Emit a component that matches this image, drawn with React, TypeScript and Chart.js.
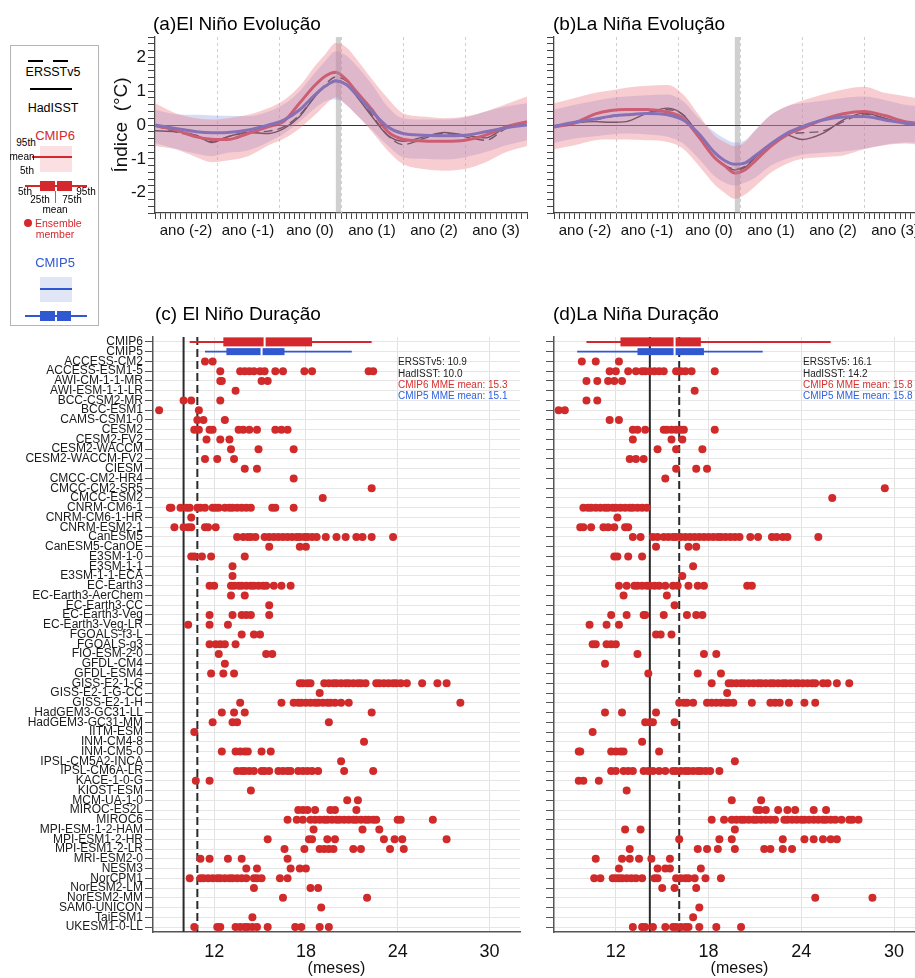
import React, { useEffect, useRef } from "react";
import { Chart, registerables } from "chart.js";
Chart.register(...registerables);

const FONT = '"Liberation Sans", Arial, Helvetica, sans-serif';
const RED = "#d4282d";
const BLUE = "#3058d0";
const PINK_BAND = "rgba(235,130,140,0.40)";
const BLUE_BAND = "rgba(120,140,220,0.30)";

// ---------- Evolution panels (months since Jan of year -2) ----------
const months = [0, 4, 8, 11, 14, 18, 22, 25, 28, 31, 33, 35, 37, 39, 42, 45, 48, 52, 56, 60, 64, 68, 72];
const yearLabels = ["ano (-2)", "ano (-1)", "ano (0)", "ano (1)", "ano (2)", "ano (3)"];

// (a) El Niño
const ninoCmip6 = [-0.02, -0.15, -0.35, -0.42, -0.43, -0.25, -0.05, 0.12, 0.65, 1.18, 1.45, 1.56, 1.34, 0.98, 0.45, -0.19, -0.42, -0.47, -0.48, -0.45, -0.3, -0.05, 0.1];
const ninoCmip5 = [0.0, -0.1, -0.2, -0.23, -0.22, -0.15, 0.0, 0.15, 0.45, 0.9, 1.15, 1.3, 1.2, 0.9, 0.4, -0.05, -0.25, -0.3, -0.32, -0.3, -0.2, -0.08, 0.0];
const ninoHad = [-0.17, -0.2, -0.3, -0.52, -0.35, -0.22, -0.25, -0.1, 0.25, 0.85, 1.15, 1.32, 1.2, 0.85, 0.25, -0.3, -0.48, -0.35, -0.22, -0.3, -0.38, -0.05, 0.1];
const ninoErs = [-0.02, -0.2, -0.35, -0.48, -0.35, -0.22, -0.18, -0.05, 0.3, 0.85, 1.2, 1.42, 1.3, 0.95, 0.3, -0.3, -0.58, -0.4, -0.25, -0.35, -0.45, -0.1, 0.05];
const ninoC6Hi = [0.64, 0.35, 0.2, 0.16, 0.2, 0.3, 0.5, 0.74, 1.15, 1.75, 2.1, 2.42, 2.3, 1.95, 1.35, 0.8, 0.35, 0.25, 0.2, 0.25, 0.4, 0.62, 0.84];
const ninoC6Lo = [-0.62, -0.72, -0.95, -1.1, -1.05, -0.92, -0.6, -0.4, -0.1, 0.3, 0.6, 0.82, 0.6, 0.3, -0.2, -0.75, -1.15, -1.3, -1.35, -1.3, -1.1, -0.8, -0.62];
const ninoC5Hi = [0.45, 0.32, 0.3, 0.28, 0.27, 0.26, 0.4, 0.62, 1.0, 1.55, 1.9, 2.18, 2.05, 1.75, 1.2, 0.55, 0.2, 0.16, 0.16, 0.22, 0.4, 0.55, 0.64];
const ninoC5Lo = [-0.53, -0.7, -0.85, -0.92, -0.82, -0.75, -0.5, -0.25, 0.1, 0.5, 0.7, 0.75, 0.6, 0.3, -0.15, -0.6, -0.95, -1.0, -1.02, -0.95, -0.8, -0.6, -0.45];

// (b) La Niña
const ninaCmip6 = [-0.06, 0.06, 0.33, 0.43, 0.46, 0.46, 0.38, 0.2, -0.35, -0.95, -1.2, -1.42, -1.32, -1.05, -0.62, -0.3, -0.1, 0.15, 0.33, 0.4, 0.28, 0.1, 0.04];
const ninaCmip5 = [-0.04, 0.08, 0.18, 0.26, 0.3, 0.34, 0.3, 0.15, -0.25, -0.8, -1.05, -1.16, -1.12, -0.9, -0.55, -0.25, -0.05, 0.15, 0.24, 0.25, 0.15, 0.05, 0.0];
const ninaHad = [-0.06, 0.06, 0.1, 0.08, 0.1, 0.35, 0.5, 0.3, -0.3, -0.95, -1.2, -1.33, -1.25, -0.95, -0.6, -0.3, -0.43, -0.25, 0.15, 0.35, 0.2, 0.04, -0.02];
const ninaErs = [-0.02, 0.06, 0.15, 0.25, 0.3, 0.35, 0.45, 0.3, -0.3, -0.95, -1.18, -1.3, -1.22, -0.95, -0.6, -0.3, -0.23, -0.18, 0.1, 0.32, 0.2, 0.04, 0.0];
const ninaC6Hi = [0.64, 0.8, 0.95, 1.02, 1.1, 1.16, 1.18, 0.9, 0.3, -0.3, -0.5, -0.62, -0.5, -0.15, 0.3, 0.55, 0.72, 0.9, 1.05, 1.13, 0.95, 0.85, 0.75];
const ninaC6Lo = [-0.72, -0.6, -0.45, -0.43, -0.43, -0.45, -0.5, -0.7, -1.2, -1.75, -2.0, -2.18, -2.05, -1.8, -1.4, -1.15, -1.0, -0.95, -0.9, -0.72, -0.6, -0.55, -0.62];
const ninaC5Hi = [0.45, 0.6, 0.72, 0.8, 0.84, 0.88, 0.9, 0.7, 0.2, -0.2, -0.4, -0.52, -0.45, -0.15, 0.3, 0.55, 0.64, 0.72, 0.8, 0.84, 0.74, 0.6, 0.55];
const ninaC5Lo = [-0.53, -0.4, -0.33, -0.28, -0.25, -0.28, -0.35, -0.55, -1.0, -1.5, -1.7, -1.79, -1.7, -1.55, -1.2, -1.0, -0.88, -0.82, -0.78, -0.7, -0.58, -0.52, -0.52];

// ---------- Duration panels ----------
const models = ["ACCESS-CM2", "ACCESS-ESM1-5", "AWI-CM-1-1-MR", "AWI-ESM-1-1-LR", "BCC-CSM2-MR", "BCC-ESM1", "CAMS-CSM1-0", "CESM2", "CESM2-FV2", "CESM2-WACCM", "CESM2-WACCM-FV2", "CIESM", "CMCC-CM2-HR4", "CMCC-CM2-SR5", "CMCC-ESM2", "CNRM-CM6-1", "CNRM-CM6-1-HR", "CNRM-ESM2-1", "CanESM5", "CanESM5-CanOE", "E3SM-1-0", "E3SM-1-1", "E3SM-1-1-ECA", "EC-Earth3", "EC-Earth3-AerChem", "EC-Earth3-CC", "EC-Earth3-Veg", "EC-Earth3-Veg-LR", "FGOALS-f3-L", "FGOALS-g3", "FIO-ESM-2-0", "GFDL-CM4", "GFDL-ESM4", "GISS-E2-1-G", "GISS-E2-1-G-CC", "GISS-E2-1-H", "HadGEM3-GC31-LL", "HadGEM3-GC31-MM", "IITM-ESM", "INM-CM4-8", "INM-CM5-0", "IPSL-CM5A2-INCA", "IPSL-CM6A-LR", "KACE-1-0-G", "KIOST-ESM", "MCM-UA-1-0", "MIROC-ES2L", "MIROC6", "MPI-ESM-1-2-HAM", "MPI-ESM1-2-HR", "MPI-ESM1-2-LR", "MRI-ESM2-0", "NESM3", "NorCPM1", "NorESM2-LM", "NorESM2-MM", "SAM0-UNICON", "TaiESM1", "UKESM1-0-LL"];
const rowLabels = ["CMIP6", "CMIP5", ...models];
const durTicks = [12, 18, 24, 30];

const ninoDur: number[][] = [
  [11.4, 11.9],
  [12.4, 13.7, 14.0, 14.3, 14.6, 15.0, 15.3, 16.0, 16.5, 17.9, 18.4, 22.1, 22.4],
  [12.4, 12.5, 15.1, 15.5],
  [13.4],
  [10.0, 10.5, 12.4],
  [8.4, 11.0],
  [10.9, 11.3, 12.7],
  [10.7, 11.0, 11.7, 11.9, 13.6, 13.9, 14.3, 14.8, 16.0, 16.4, 16.8],
  [11.5, 12.4, 13.0],
  [13.1, 14.9, 17.2],
  [11.4, 12.2, 13.3],
  [14.0, 14.8],
  [17.2],
  [22.3],
  [19.1],
  [9.1, 9.2, 9.8, 10.2, 10.4, 10.9, 11.1, 11.4, 11.9, 12.1, 12.3, 12.7, 13.0, 13.2, 13.5, 13.8, 14.1, 14.4, 15.8, 16.0, 17.2],
  [10.5],
  [9.4, 10.0, 10.3, 10.5, 11.4, 11.6, 12.1],
  [13.5, 13.9, 14.2, 14.4, 14.7, 15.3, 15.6, 15.9, 16.2, 16.5, 16.8, 17.1, 17.4, 17.6, 17.9, 18.1, 18.4, 18.7, 19.3, 20.0, 20.6, 21.3, 21.7, 22.3, 23.7],
  [15.6, 17.6, 18.0],
  [10.5, 10.7, 11.2, 11.8, 14.0],
  [13.2],
  [13.2],
  [11.7, 12.0, 13.1, 13.3, 13.6, 13.8, 14.1, 14.4, 14.6, 14.9, 15.2, 15.4, 15.9, 16.4, 17.0],
  [13.1, 14.0],
  [15.6],
  [11.7, 13.2, 13.8, 14.1, 14.4, 15.6],
  [10.3, 11.7, 12.9],
  [13.8, 14.6, 15.0],
  [11.7, 12.1, 12.4, 12.7, 13.4],
  [12.3, 15.4, 15.8],
  [12.7],
  [11.8, 12.6, 13.3],
  [17.6, 17.8, 18.1, 18.3, 19.2, 19.5, 19.8, 20.0, 20.3, 20.6, 20.8, 21.1, 21.4, 21.6, 21.9, 22.6, 22.8, 23.1, 23.4, 23.7, 23.9, 24.2, 24.6, 25.6, 26.6, 27.2],
  [18.9],
  [13.7, 16.4, 17.2, 17.5, 17.7, 18.0, 18.3, 18.6, 18.8, 19.1, 19.4, 19.6, 19.9, 20.3, 20.8, 28.1],
  [12.5, 13.3, 14.0, 22.3],
  [11.9, 13.2, 13.5, 19.5],
  [10.7],
  [21.8],
  [12.5, 13.4, 13.7, 14.0, 14.2, 15.1, 15.7],
  [20.3],
  [13.5, 13.8, 14.0, 14.3, 14.6, 15.1, 15.3, 15.6, 16.2, 16.5, 16.8, 17.0, 17.5, 17.8, 18.1, 18.4, 18.8, 20.5, 22.4],
  [10.8, 11.7],
  [14.4],
  [20.7, 21.4],
  [17.5, 17.8, 18.1, 18.6, 19.6, 19.9, 21.3],
  [16.8, 17.4, 17.8, 18.3, 18.6, 18.9, 19.2, 19.4, 19.7, 20.0, 20.2, 20.5, 20.8, 21.1, 21.3, 21.6, 21.9, 22.1, 22.4, 22.6, 24.0, 24.2, 26.3],
  [18.5, 21.7, 22.8],
  [15.5, 18.2, 18.4, 19.4, 19.9, 23.1, 23.8, 24.3, 27.2],
  [16.6, 17.9, 18.9, 19.2, 19.5, 19.8, 21.1, 21.6, 23.5, 24.4],
  [11.1, 11.7, 12.9, 13.8, 16.8],
  [14.1, 14.8, 17.0, 17.6, 18.0],
  [10.4, 11.1, 11.3, 11.6, 11.9, 12.2, 12.4, 12.7, 13.0, 13.2, 13.5, 13.8, 14.1, 14.6, 14.8, 15.1, 16.3, 16.8],
  [14.6, 18.3, 18.8],
  [16.5, 22.0],
  [19.0],
  [14.5],
  [10.7, 12.2, 12.4, 13.4, 13.7, 14.0, 14.2, 14.5, 14.8, 15.5, 17.3, 17.7, 18.9, 19.5],
];

const ninaDur: number[][] = [
  [9.8, 10.7, 12.2],
  [11.6, 12.0, 12.8, 13.3, 13.7, 13.9, 14.2, 14.5, 14.8, 15.1, 15.9, 16.2, 16.5, 16.9, 18.4],
  [10.1, 10.8, 11.5, 11.9, 12.4],
  [17.1],
  [10.1, 10.8],
  [8.3, 8.7],
  [11.6, 12.2],
  [13.1, 13.4, 13.9, 15.1, 15.3, 15.6, 15.9, 16.2, 16.4, 18.4],
  [13.1, 15.6, 16.3],
  [14.7, 15.9, 17.6],
  [12.9, 13.3, 13.8],
  [15.9, 17.2, 17.9],
  [15.2],
  [29.4],
  [26.0],
  [9.9, 10.2, 10.4, 10.7, 11.0, 11.3, 11.5, 11.8, 12.0, 12.3, 12.6, 12.9, 13.1, 13.4, 13.7, 14.0],
  [12.1],
  [9.7, 9.9, 10.4, 11.2, 11.5, 11.9, 12.6, 12.8],
  [13.1, 13.6, 14.4, 14.7, 15.1, 15.4, 15.7, 15.9, 16.2, 16.5, 16.8, 17.1, 17.4, 17.7, 18.0, 18.3, 18.6, 18.8, 19.1, 19.4, 19.7, 20.0, 20.7, 21.2, 22.1, 22.4, 22.8, 23.1, 25.1],
  [14.6, 16.7, 17.2],
  [11.9, 12.1, 12.8, 13.7],
  [17.0],
  [16.3],
  [12.2, 12.7, 13.2, 13.4, 13.7, 14.0, 14.2, 14.5, 14.8, 15.2, 15.7, 16.0, 16.7, 17.3, 17.7, 20.5, 20.8],
  [12.5, 15.3],
  [15.8],
  [11.7, 12.7, 13.8, 13.9, 15.1, 16.6, 17.2, 17.6],
  [10.3, 11.4, 12.2],
  [14.6, 14.9, 15.6],
  [10.5, 10.7, 11.4, 11.7, 12.0],
  [13.4, 17.7, 18.5],
  [11.3],
  [14.1, 17.3, 18.8],
  [18.2, 19.3, 19.5, 19.8, 20.1, 20.3, 20.6, 20.9, 21.2, 21.4, 21.7, 22.0, 22.2, 22.5, 22.8, 23.0, 23.3, 23.6, 23.8, 24.1, 24.4, 24.7, 24.9, 25.4, 25.7, 26.3, 27.1],
  [19.2],
  [16.1, 16.4, 16.6, 17.0, 17.9, 18.2, 18.5, 18.8, 19.1, 19.3, 19.6, 20.8, 22.0, 22.3, 22.6, 23.2, 24.2, 24.9],
  [11.3, 12.4, 14.6],
  [13.9, 14.2, 14.4, 15.8],
  [10.5],
  [13.7],
  [9.6, 9.7, 11.7, 12.0, 12.3, 12.5, 14.8],
  [19.7],
  [11.7, 12.0, 12.5, 12.8, 13.1, 13.8, 14.1, 14.4, 14.8, 15.2, 15.7, 15.9, 16.2, 16.5, 16.7, 17.0, 17.3, 17.5, 17.8, 18.1, 18.7],
  [9.6, 9.9, 10.9],
  [12.7],
  [19.5, 21.4],
  [21.1, 21.3, 21.7, 22.5, 23.1, 23.6, 24.8, 25.6],
  [18.2, 19.0, 19.5, 19.8, 20.1, 20.3, 20.6, 20.9, 21.1, 21.4, 21.7, 22.0, 22.3, 22.9, 23.1, 23.4, 23.7, 24.0, 24.2, 24.5, 24.8, 25.1, 25.4, 25.6, 25.9, 26.2, 26.6, 27.1, 27.3, 27.7],
  [12.6, 13.6, 19.7],
  [16.1, 18.7, 19.5, 22.8, 24.2, 24.8, 25.4, 25.9, 26.3],
  [12.9, 17.3, 17.9, 18.6, 19.7, 21.6, 22.0, 22.8, 23.4],
  [10.7, 12.4, 12.9, 13.5, 14.3, 15.5],
  [12.2, 14.7, 15.2, 15.5, 17.5],
  [10.6, 11.0, 11.8, 12.0, 12.2, 12.4, 12.7, 13.0, 13.3, 13.7, 14.5, 14.7, 15.9, 16.2, 16.5, 16.7, 17.1, 17.8, 18.8],
  [15.0, 15.8, 17.2],
  [24.9, 28.6],
  [17.4],
  [17.0],
  [13.1, 13.7, 13.9, 14.4, 15.2, 15.7, 15.9, 16.2, 16.5, 16.7, 17.4, 18.5, 20.1],
];

// box stats: [p5, p25, mean, p75, p95]
const ninoBox6 = [10.4, 12.6, 15.3, 18.4, 22.3];
const ninoBox5 = [11.4, 12.8, 15.1, 16.6, 21.0];
const ninaBox6 = [10.1, 12.3, 15.8, 17.5, 25.9];
const ninaBox5 = [9.5, 13.4, 15.8, 17.7, 21.5];
const ninoObs = { ersst: 10.9, hadisst: 10.0 };
const ninaObs = { ersst: 16.1, hadisst: 14.2 };

// ---------- helpers ----------
const Txt = ({ x, y, s = 12, c = "#000", a = "center", children }: any) => (
  <div
    style={{
      position: "absolute",
      left: x,
      top: y,
      transform: `translate(${a === "center" ? "-50%" : a === "right" ? "-100%" : "0"}, -50%)`,
      fontSize: s,
      color: c,
      whiteSpace: "nowrap",
      lineHeight: 1,
      fontFamily: FONT,
    }}
  >
    {children}
  </div>
);
const Rect = ({ x, y, w, h, bg }: any) => (
  <div style={{ position: "absolute", left: x, top: y, width: w, height: h, background: bg }} />
);

const evoDecor = {
  id: "evoDecor",
  beforeDatasetsDraw(chart: any) {
    const { ctx, chartArea, scales } = chart;
    const { top, bottom } = chartArea;
    ctx.save();
    ctx.strokeStyle = "#cfcfcf";
    ctx.lineWidth = 1;
    ctx.setLineDash([3, 3]);
    for (const m of [12, 24, 36, 48, 60]) {
      const px = Math.round(scales.x.getPixelForValue(m)) + 0.5;
      ctx.beginPath();
      ctx.moveTo(px, top);
      ctx.lineTo(px, bottom);
      ctx.stroke();
    }
    ctx.restore();
  },
  beforeDatasetDraw(chart: any, args: any) {
    if (args.index !== 4) return;
    const { ctx, chartArea, scales } = chart;
    const { left, right, top, bottom } = chartArea;
    ctx.save();
    const x0 = scales.x.getPixelForValue(35);
    const x1 = scales.x.getPixelForValue(36);
    ctx.fillStyle = "rgba(150,150,150,0.45)";
    ctx.fillRect(x0, top, x1 - x0, bottom - top);
    const y0 = Math.round(scales.y.getPixelForValue(0)) + 0.5;
    ctx.strokeStyle = "#333";
    ctx.lineWidth = 1;
    ctx.beginPath();
    ctx.moveTo(left, y0);
    ctx.lineTo(right, y0);
    ctx.stroke();
    ctx.restore();
  },
};

function EvoPanel({ left, yWidth, padRight, showY, s }: any) {
  const ref = useRef<HTMLCanvasElement>(null);
  useEffect(() => {
    const mk = (vals: number[]) => months.map((m, i) => ({ x: m, y: vals[i] }));
    const base = { pointRadius: 0, cubicInterpolationMode: "monotone" as const };
    const chart = new Chart(ref.current!, {
      type: "line",
      data: {
        datasets: [
          { ...base, data: mk(s.c6Hi), fill: "+1", backgroundColor: PINK_BAND, borderWidth: 0 },
          { ...base, data: mk(s.c6Lo), fill: false, borderWidth: 0 },
          { ...base, data: mk(s.c5Hi), fill: "+1", backgroundColor: BLUE_BAND, borderWidth: 0 },
          { ...base, data: mk(s.c5Lo), fill: false, borderWidth: 0 },
          { ...base, data: mk(s.c5), borderColor: BLUE, borderWidth: 3, fill: false },
          { ...base, data: mk(s.c6), borderColor: RED, borderWidth: 3, fill: false },
          { ...base, data: mk(s.ers), borderColor: "#111", borderWidth: 1.4, borderDash: [9, 5], fill: false },
          { ...base, data: mk(s.had), borderColor: "#111", borderWidth: 1.4, fill: false },
        ],
      },
      options: {
        responsive: false,
        animation: false,
        events: [],
        layout: { padding: { top: 37, right: padRight, left: 0, bottom: 0 } },
        plugins: { legend: { display: false }, tooltip: { enabled: false } },
        scales: {
          x: {
            type: "linear",
            min: 0,
            max: 72,
            afterBuildTicks: (sc: any) => {
              sc.ticks = Array.from({ length: 73 }, (_, i) => ({ value: i }));
            },
            afterFit: (sc: any) => {
              sc.height = 37;
            },
            ticks: {
              autoSkip: false,
              maxRotation: 0,
              minRotation: 0,
              padding: 3,
              color: "#111",
              font: { family: FONT, size: 15 },
              callback: (v: any) => {
                const n = Math.round(Number(v));
                return n % 12 === 6 ? yearLabels[(n - 6) / 12] : "";
              },
            },
            grid: { drawOnChartArea: false, tickLength: 6, tickColor: "#444", tickWidth: 1 },
            border: { color: "#444", width: 1.3 },
          },
          y: {
            min: -2.6,
            max: 2.6,
            afterBuildTicks: (sc: any) => {
              sc.ticks = Array.from({ length: 27 }, (_, i) => ({ value: Math.round((-2.6 + i * 0.2) * 10) / 10 }));
            },
            afterFit: (sc: any) => {
              sc.width = yWidth;
            },
            ticks: {
              autoSkip: false,
              padding: 2,
              color: "#111",
              font: { family: FONT, size: 17 },
              callback: (v: any) => (showY && Number.isInteger(Number(v)) ? String(v) : ""),
            },
            grid: { drawOnChartArea: false, tickLength: 7, tickColor: "#444", tickWidth: 1 },
            border: { color: "#444", width: 1.3 },
            title: showY
              ? { display: true, text: "Índice  (°C)", color: "#111", font: { family: FONT, size: 19 }, padding: { top: 10, bottom: 0 } }
              : { display: false },
          },
        },
      },
      plugins: [evoDecor],
    });
    return () => chart.destroy();
  }, []);
  return (
    <canvas ref={ref} width={430} height={250} style={{ position: "absolute", left, top: 0, width: 430, height: 250 }} />
  );
}

function drawBox(ctx: any, sx: any, sy: any, vals: number[], row: number, color: string, h: number, lw: number) {
  const [p5, p25, mean, p75, p95] = vals;
  const y = sy.getPixelForValue(row);
  ctx.save();
  ctx.strokeStyle = color;
  ctx.lineWidth = lw;
  ctx.beginPath();
  ctx.moveTo(sx.getPixelForValue(p5), y);
  ctx.lineTo(sx.getPixelForValue(p95), y);
  ctx.stroke();
  ctx.fillStyle = color;
  const a = sx.getPixelForValue(p25);
  const b = sx.getPixelForValue(p75);
  ctx.fillRect(a, y - h / 2, b - a, h);
  const m = sx.getPixelForValue(mean);
  ctx.fillStyle = "#fff";
  ctx.fillRect(m - 1, y - h / 2 - 0.5, 2, h + 1);
  ctx.restore();
}

function DurPanel({ left, width, yWidth, padRight, showLabels, dur, box6, box5, obs }: any) {
  const ref = useRef<HTMLCanvasElement>(null);
  useEffect(() => {
    const pts: { x: number; y: number }[] = [];
    dur.forEach((vals: number[], i: number) => vals.forEach((v) => pts.push({ x: v, y: i + 3 })));
    const decor = {
      id: "durDecor",
      beforeDatasetsDraw(chart: any) {
        const { ctx, chartArea, scales } = chart;
        const { top, bottom } = chartArea;
        ctx.save();
        ctx.strokeStyle = "#2a2a2a";
        ctx.lineWidth = 2;
        const xh = scales.x.getPixelForValue(obs.hadisst);
        ctx.beginPath();
        ctx.moveTo(xh, top);
        ctx.lineTo(xh, bottom);
        ctx.stroke();
        ctx.setLineDash([8, 4]);
        const xe = scales.x.getPixelForValue(obs.ersst);
        ctx.beginPath();
        ctx.moveTo(xe, top);
        ctx.lineTo(xe, bottom);
        ctx.stroke();
        ctx.restore();
        drawBox(ctx, scales.x, scales.y, box6, 1, RED, 9, 2);
        drawBox(ctx, scales.x, scales.y, box5, 2, BLUE, 7, 1.6);
      },
    };
    const chart = new Chart(ref.current!, {
      type: "scatter",
      data: {
        datasets: [{ data: pts, backgroundColor: "#d02a2a", borderWidth: 0, pointRadius: 4 }],
      },
      options: {
        responsive: false,
        animation: false,
        events: [],
        layout: { padding: { top: 17, right: padRight, left: 0, bottom: 0 } },
        plugins: { legend: { display: false }, tooltip: { enabled: false } },
        scales: {
          x: {
            type: "linear",
            min: 8,
            max: 32,
            afterBuildTicks: (sc: any) => {
              sc.ticks = durTicks.map((v) => ({ value: v }));
            },
            afterFit: (sc: any) => {
              sc.height = 46;
            },
            ticks: { autoSkip: false, maxRotation: 0, padding: 9, color: "#111", font: { family: FONT, size: 18 } },
            grid: { color: "#e2e2e2", drawTicks: false },
            border: { color: "#555", width: 1.5 },
            title: { display: true, text: "(meses)", color: "#111", font: { family: FONT, size: 16 }, padding: { top: 0, bottom: 0 } },
          },
          y: {
            type: "linear",
            min: 0.5,
            max: 61.5,
            reverse: true,
            afterBuildTicks: (sc: any) => {
              sc.ticks = rowLabels.map((_, i) => ({ value: i + 1 }));
            },
            afterFit: (sc: any) => {
              sc.width = yWidth;
            },
            ticks: {
              autoSkip: false,
              padding: 2,
              color: "#1a1a1a",
              font: { family: FONT, size: 12 },
              callback: (v: any) => (showLabels ? rowLabels[Math.round(Number(v)) - 1] : ""),
            },
            grid: { color: "#e6e6e6", tickColor: "#555", tickLength: 8, drawTicks: true },
            border: { color: "#555", width: 1.5 },
          },
        },
      },
      plugins: [decor],
    });
    return () => chart.destroy();
  }, []);
  return (
    <canvas ref={ref} width={width} height={658} style={{ position: "absolute", left, top: 320, width, height: 658 }} />
  );
}

function Legend() {
  return (
    <>
      <div style={{ position: "absolute", left: 10, top: 45, width: 87, height: 279, border: "1px solid #b5b5b5", background: "#fff" }} />
      <Rect x={28} y={60} w={15} h={1.5} bg="#000" />
      <Rect x={53} y={60} w={15} h={1.5} bg="#000" />
      <Txt x={53} y={72} s={12.5}>ERSSTv5</Txt>
      <Rect x={30} y={88} w={42} h={1.5} bg="#000" />
      <Txt x={53} y={108} s={12.5}>HadISST</Txt>
      <Txt x={55} y={135} s={13} c={RED}>CMIP6</Txt>
      <Rect x={40} y={146} w={32} h={26} bg="rgba(235,130,140,0.25)" />
      <Rect x={32} y={156} w={40} h={2} bg={RED} />
      <Txt x={26} y={143} s={10}>95th</Txt>
      <Txt x={22} y={157} s={10}>mean</Txt>
      <Txt x={27} y={171} s={10}>5th</Txt>
      <Rect x={25} y={185} w={62} h={1.5} bg={RED} />
      <Rect x={40} y={181} w={14.5} h={10} bg={RED} />
      <Rect x={57} y={181} w={15} h={10} bg={RED} />
      <Txt x={25} y={192} s={10}>5th</Txt>
      <Txt x={86} y={192} s={10}>95th</Txt>
      <Txt x={40} y={200} s={10}>25th</Txt>
      <Txt x={72} y={200} s={10}>75th</Txt>
      <Rect x={55} y={191} w={1} h={12} bg="#777" />
      <Txt x={55} y={210} s={10}>mean</Txt>
      <div style={{ position: "absolute", left: 24, top: 219, width: 8, height: 8, borderRadius: 4, background: RED }} />
      <Txt x={35} y={223} s={10.5} c={RED} a="left">Ensemble</Txt>
      <Txt x={55} y={234} s={10.5} c={RED}>member</Txt>
      <Txt x={55} y={262} s={13} c={BLUE}>CMIP5</Txt>
      <Rect x={40} y={277} w={32} h={25} bg="rgba(120,140,220,0.22)" />
      <Rect x={40} y={288} w={32} h={2} bg={BLUE} />
      <Rect x={25} y={315} w={62} h={1.5} bg={BLUE} />
      <Rect x={39.5} y={311} w={15} h={10} bg={BLUE} />
      <Rect x={57} y={311} w={14} h={10} bg={BLUE} />
    </>
  );
}

export default function App() {
  const ninoSeries = { c6: ninoCmip6, c5: ninoCmip5, had: ninoHad, ers: ninoErs, c6Hi: ninoC6Hi, c6Lo: ninoC6Lo, c5Hi: ninoC5Hi, c5Lo: ninoC5Lo };
  const ninaSeries = { c6: ninaCmip6, c5: ninaCmip5, had: ninaHad, ers: ninaErs, c6Hi: ninaC6Hi, c6Lo: ninaC6Lo, c5Hi: ninaC5Hi, c5Lo: ninaC5Lo };
  return (
    <div style={{ position: "absolute", left: 0, top: 0, width: 915, height: 978, overflow: "hidden", background: "#fff", fontFamily: FONT }}>
      <EvoPanel left={100} yWidth={55} padRight={3} showY={true} s={ninoSeries} />
      <EvoPanel left={500} yWidth={54} padRight={4} showY={false} s={ninaSeries} />
      <DurPanel left={0} width={530} yWidth={153} padRight={10} showLabels={true} dur={ninoDur} box6={ninoBox6} box5={ninoBox5} obs={ninoObs} />
      <DurPanel left={500} width={430} yWidth={54} padRight={5} showLabels={false} dur={ninaDur} box6={ninaBox6} box5={ninaBox5} obs={ninaObs} />
      <Legend />
      <Txt x={153} y={23} s={19} a="left">(a)El Niño Evolução</Txt>
      <Txt x={553} y={23} s={19} a="left">(b)La Niña Evolução</Txt>
      <Txt x={155} y={313} s={19} a="left">(c) El Niño Duração</Txt>
      <Txt x={553} y={313} s={19} a="left">(d)La Niña Duração</Txt>
      <Txt x={398} y={362} s={10} c="#222" a="left">ERSSTv5: 10.9</Txt>
      <Txt x={398} y={374} s={10} c="#222" a="left">HadISST: 10.0</Txt>
      <Txt x={398} y={385} s={10} c="#d63030" a="left">CMIP6 MME mean: 15.3</Txt>
      <Txt x={398} y={396} s={10} c="#3060e0" a="left">CMIP5 MME mean: 15.1</Txt>
      <Txt x={803} y={362} s={10} c="#222" a="left">ERSSTv5: 16.1</Txt>
      <Txt x={803} y={374} s={10} c="#222" a="left">HadISST: 14.2</Txt>
      <Txt x={803} y={385} s={10} c="#d63030" a="left">CMIP6 MME mean: 15.8</Txt>
      <Txt x={803} y={396} s={10} c="#3060e0" a="left">CMIP5 MME mean: 15.8</Txt>
    </div>
  );
}
